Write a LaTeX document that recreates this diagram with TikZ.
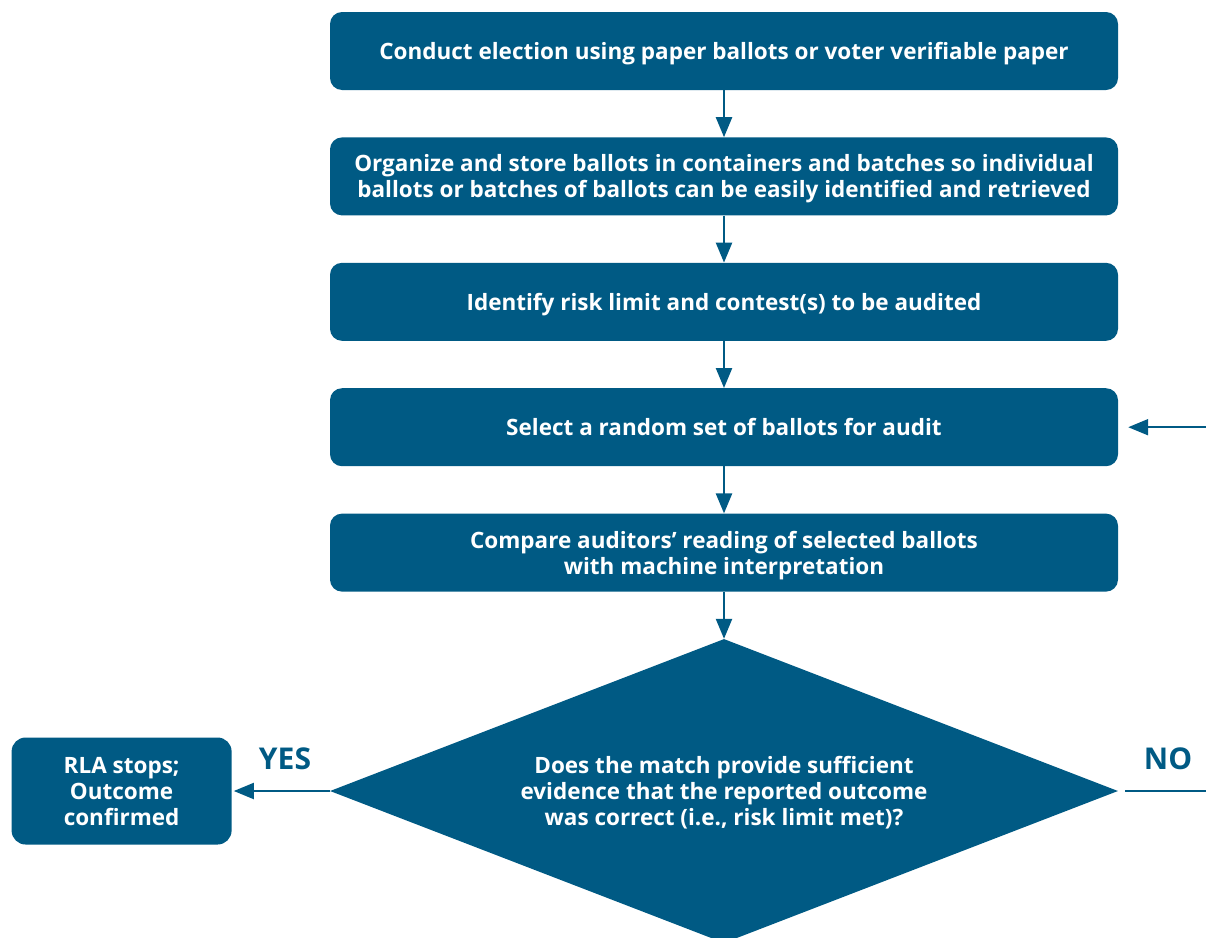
\documentclass[tikz,border=0pt]{standalone}
\usepackage{fontspec}
\setmainfont{Open Sans}
\usetikzlibrary{positioning, shapes.geometric, arrows.meta}
\definecolor{rlablue}{RGB}{0, 90, 132}
\tikzset{
  block/.style={fill=rlablue, rounded corners=12pt, minimum width=788pt, minimum height=78pt,
                align=center, text=white, inner sep=0pt,
                font=\fontsize{22.5}{26}\selectfont\bfseries,
                text height=23pt, text depth=6pt},
  tworows/.style={text height=49pt},
  threerows/.style={text height=75pt},
  flow/.style={-{Triangle[length=20pt, width=16pt]}, line width=2.4pt, draw=rlablue},
  answer/.style={text=rlablue, font=\fontsize{30}{30}\selectfont\bfseries},
}

\begin{document}
\begin{tikzpicture}[x=1pt, y=1pt, node distance=47pt]
  \clip (0,0) rectangle (1206,-937);
  % --- audit steps ---
  \node[block] (conduct) at (724,-51) {Conduct election using paper ballots or voter verifiable paper};
  \node[block, tworows, below=of conduct] (organize) {Organize and store ballots in containers and batches so individual\\ballots or batches of ballots can be easily identified and retrieved};
  \node[block, below=of organize] (risk) {Identify risk limit and contest(s) to be audited};
  \node[block, below=of risk] (select) {Select a random set of ballots for audit};
  \node[block, tworows, below=of select] (compare) {Compare auditors’ reading of selected ballots\\with machine interpretation};

  % --- decision ---
  \node[block, threerows, diamond, sharp corners, aspect=2.6, minimum width=788pt,
        minimum height=304pt, below=of compare] (match) {Does the match provide sufficient\\evidence that the reported outcome\\was correct (i.e., risk limit met)?};
  \node[block, threerows, minimum width=220pt, minimum height=107pt, rounded corners=14pt,
        left=98pt of match] (stop) {RLA stops;\\Outcome\\confirmed};
  \node[answer] (yes) at (285,-759) {YES};
  \node[answer] (no) at (1168,-759) {NO};

  \draw[flow] (conduct) -- (organize);
  \draw[flow] (organize) -- (risk);
  \draw[flow] (risk) -- (select);
  \draw[flow] (select) -- (compare);
  \draw[flow] (compare) -- (match);
  \draw[flow, line width=2pt, shorten >=2pt] (match) -- (stop);
  \draw[flow, line width=2pt, shorten <=7pt, shorten >=10pt] (match.east) -- ++(110,0) |- (select.east);
\end{tikzpicture}
\end{document}
